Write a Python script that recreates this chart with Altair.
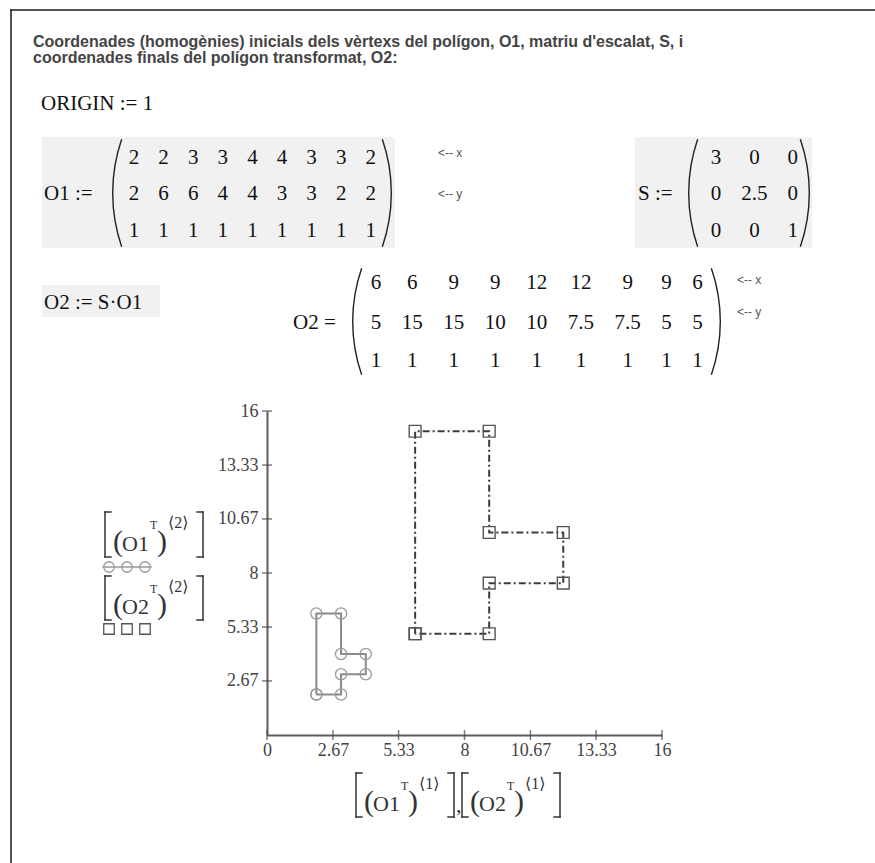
import math
import altair as alt
import pandas as pd

# Homogeneous vertex coordinates of the initial polygon O1
O1_x = [2, 2, 3, 3, 4, 4, 3, 3, 2]
O1_y = [2, 6, 6, 4, 4, 3, 3, 2, 2]
O1_h = [1, 1, 1, 1, 1, 1, 1, 1, 1]

# Scaling matrix S
S_row1 = [3, 0, 0]
S_row2 = [0, 2.5, 0]
S_row3 = [0, 0, 1]

# Transformed polygon O2 = S·O1
O2_x = [6, 6, 9, 9, 12, 12, 9, 9, 6]
O2_y = [5, 15, 15, 10, 10, 7.5, 7.5, 5, 5]
O2_h = [1, 1, 1, 1, 1, 1, 1, 1, 1]

# Axis ticks
x_tick_values = [0, 2.67, 5.33, 8, 10.67, 13.33, 16]
y_tick_values = [2.67, 5.33, 8, 10.67, 13.33, 16]

title_lines = [
    "Coordenades (homogènies) inicials dels vèrtexs del polígon, O1, matriu d'escalat, S, i",
    "coordenades finals del polígon transformat, O2:",
]

# ---------------------------------------------------------------- page layout
PAGE_W, PAGE_H = 875, 863
PLOT_L, PLOT_T, PLOT_W, PLOT_H = 267, 411, 395, 324

SERIF = "Liberation Serif"
SANS = "Liberation Sans"
INK = "#111111"
BOX = "#f1f1f1"

ONE = pd.DataFrame({"k": [0]})
back_layers = []
layers = []


def text(s, X, Y, size=21, font=SERIF, color=INK, align="left", weight="normal"):
    layers.append(
        alt.Chart(ONE)
        .mark_text(text=s, font=font, fontSize=size, fontWeight=weight, color=color,
                   align=align, baseline="alphabetic")
        .encode(x=alt.value(X - PLOT_L), y=alt.value(Y - PLOT_T))
    )


def seg(X1, Y1, X2, Y2, color="#333333", width=1.5):
    layers.append(
        alt.Chart(ONE)
        .mark_rule(color=color, strokeWidth=width, strokeCap="square")
        .encode(x=alt.value(X1 - PLOT_L), y=alt.value(Y1 - PLOT_T),
                x2=alt.value(X2 - PLOT_L), y2=alt.value(Y2 - PLOT_T))
    )


def box(X1, Y1, X2, Y2, fill=BOX):
    back_layers.append(
        alt.Chart(ONE)
        .mark_rect(color=fill)
        .encode(x=alt.value(X1 - PLOT_L), y=alt.value(Y1 - PLOT_T),
                x2=alt.value(X2 - PLOT_L), y2=alt.value(Y2 - PLOT_T))
    )


def paren(Xe, Y1, Y2, side, bulge=9.0, width=1.4):
    """Tall thin matrix parenthesis drawn as a narrow ring segment."""
    h = (Y2 - Y1) / 2
    R = (h * h + bulge * bulge) / (2 * bulge)
    a = math.asin(h / R)
    Ym = (Y1 + Y2) / 2
    if side == "left":
        cx, mid = Xe + R, 1.5 * math.pi
    else:
        cx, mid = Xe - R, 0.5 * math.pi
    layers.append(
        alt.Chart(ONE)
        .mark_arc(radius=R, radius2=R - width, theta=mid - a, theta2=mid + a, color="#222")
        .encode(x=alt.value(cx - PLOT_L), y=alt.value(Ym - PLOT_T))
    )


def fmt(v):
    return f"{v:g}"


def text_width(s, size):
    return sum(0.25 * size if ch == "." else 0.5 * size for ch in s)


def matrix(rows, c1, gap, baselines, size=21):
    """Mathcad-style matrix body: columns centred, each as wide as its widest entry."""
    cells = [[fmt(v) for v in r] for r in rows]
    ncol = len(cells[0])
    widths = [max(text_width(cells[r][j], size) for r in range(len(cells))) for j in range(ncol)]
    centers = [c1]
    for j in range(1, ncol):
        centers.append(centers[-1] + widths[j - 1] / 2 + gap + widths[j] / 2)
    for r, row in enumerate(cells):
        for j, s in enumerate(row):
            text(s, centers[j], baselines[r], size=size, align="center")


def column_selector(x0, yt, H, name, idx):
    """[ (nameᵀ)⟨idx⟩ ]"""
    seg(x0, yt, x0, yt + H)
    seg(x0, yt, x0 + 6, yt)
    seg(x0, yt + H, x0 + 6, yt + H)
    text("(", x0 + 8, yt + H - 6, size=30, color="#333")
    text(name, x0 + 17, yt + H - 6, size=22, color="#333")
    text("T", x0 + 45, yt + 17, size=12, color="#333")
    text(")", x0 + 52, yt + H - 6, size=30, color="#333")
    text(f"⟨{idx}⟩", x0 + 63, yt + 16, size=16, color="#333",
         font="Liberation Serif, DejaVu Serif")
    seg(x0 + 98, yt, x0 + 98, yt + H)
    seg(x0 + 92, yt, x0 + 98, yt)
    seg(x0 + 92, yt + H, x0 + 98, yt + H)


# ---------------------------------------------------------------- worksheet text
seg(11, 10, PAGE_W, 10, color="#1a1a1a", width=1.5)
seg(11, 10, 11, PAGE_H, color="#1a1a1a", width=1.5)

text(title_lines[0], 33, 47, size=16, font=SANS, color="#444444", weight="bold")
text(title_lines[1], 33, 63, size=16, font=SANS, color="#444444", weight="bold")

text("ORIGIN := 1", 41, 110)

# O1 definition
box(42, 137, 395, 248)
text("O1 :=", 44, 200)
paren(112, 139, 247, "left")
paren(392, 139, 247, "right")
matrix([O1_x, O1_y, O1_h], 134, 19.1, [164, 200, 237])
text("<-- x", 438, 157, size=12, font=SANS, color="#555")
text("<-- y", 438, 198, size=12, font=SANS, color="#555")

# S definition
box(635, 137, 812, 248)
text("S :=", 638, 200)
paren(688, 139, 247, "left")
paren(810, 139, 247, "right")
matrix([S_row1, S_row2, S_row3], 716, 20, [164, 200, 237])

# O2 = S·O1
box(42, 285, 160, 317)
text("O2 := S·O1", 44, 309)
text("O2 =", 293, 329)
paren(352, 268, 375, "left")
paren(721, 268, 375, "right")
matrix([O2_x, O2_y, O2_h], 376, 20.5, [289, 329, 367])
text("<-- x", 737, 284, size=12, font=SANS, color="#555")
text("<-- y", 737, 316, size=12, font=SANS, color="#555")

# ---------------------------------------------------------------- axis titles / trace legend
column_selector(356, 773, 44, "O1", 1)
text(",", 456, 812, size=22, color="#333")
column_selector(462, 773, 44, "O2", 1)

column_selector(105, 512, 45, "O1", 2)
column_selector(105, 576, 44, "O2", 2)

O1_LINE, O1_MARK = "#8a8a8a", "#9a9a9a"
O2_LINE, O2_MARK = "#3c3c3c", "#555555"

seg(103, 567, 151, 567, color=O1_MARK, width=1.5)
for cx in (109, 127, 145):
    layers.append(
        alt.Chart(ONE).mark_point(shape="circle", filled=False, size=110,
                                  color=O1_MARK, strokeWidth=1.3, opacity=1)
        .encode(x=alt.value(cx - PLOT_L), y=alt.value(567 - PLOT_T))
    )
    layers.append(
        alt.Chart(ONE).mark_point(shape="square", filled=False, size=110,
                                  color=O2_MARK, strokeWidth=1.3, opacity=1)
        .encode(x=alt.value(cx - PLOT_L), y=alt.value(629 - PLOT_T))
    )

# ---------------------------------------------------------------- plot
pts = pd.DataFrame({
    "x": O1_x + O2_x,
    "y": O1_y + O2_y,
    "series": ["O1"] * len(O1_x) + ["O2"] * len(O2_x),
    "i": list(range(len(O1_x))) + list(range(len(O2_x))),
})

axis_common = dict(format=".2~f", ticks=False, grid=False,
                   domainColor="#5c5c5c", domainWidth=2, labelFont=SERIF,
                   labelFontSize=18, labelColor="#444444", title=None,
                   labelFlush=False, labelOverlap=False)
SCALE = alt.Scale(domain=[0, 16], nice=False, zero=False)
X_AXIS = alt.Axis(values=x_tick_values, labelPadding=6, **axis_common)
Y_AXIS = alt.Axis(values=y_tick_values, labelPadding=9, **axis_common)

base = alt.Chart(pts).encode(
    x=alt.X("x:Q", scale=SCALE, axis=X_AXIS),
    y=alt.Y("y:Q", scale=SCALE, axis=Y_AXIS),
    order="i:Q",
)
o1 = base.transform_filter(alt.datum.series == "O1")
o2 = base.transform_filter(alt.datum.series == "O2")

o1_line = o1.mark_line(color=O1_LINE, strokeWidth=2)
o1_pts = o1.mark_point(shape="circle", filled=False, size=125, color=O1_MARK,
                       strokeWidth=1.3, opacity=1)
o2_line = o2.mark_line(color=O2_LINE, strokeWidth=2, strokeDash=[7, 3, 2, 3])
o2_pts = o2.mark_point(shape="square", filled=False, size=140, color=O2_MARK,
                       strokeWidth=1.4, opacity=1)

# crossing tick marks on both axes
x_ticks = alt.Chart(pd.DataFrame({"v": x_tick_values})).mark_tick(
    orient="vertical", size=10, thickness=1.5, color="#444").encode(
    x=alt.X("v:Q", scale=SCALE, axis=X_AXIS), y=alt.datum(0))
y_ticks = alt.Chart(pd.DataFrame({"v": y_tick_values})).mark_tick(
    orient="horizontal", size=10, thickness=1.5, color="#444").encode(
    y=alt.Y("v:Q", scale=SCALE, axis=Y_AXIS), x=alt.datum(0))

chart = (
    alt.layer(*back_layers, o1_line, o2_line, o1_pts, o2_pts, x_ticks, y_ticks, *layers)
    .properties(
        width=PLOT_W, height=PLOT_H,
        padding={"left": PLOT_L, "top": PLOT_T,
                 "right": PAGE_W - PLOT_L - PLOT_W, "bottom": PAGE_H - PLOT_T - PLOT_H},
        autosize=alt.AutoSizeParams(type="none"),
        background="white",
    )
    .configure_view(stroke=None)
)

chart.save("out.html", embed_options={"renderer": "svg", "actions": False})
